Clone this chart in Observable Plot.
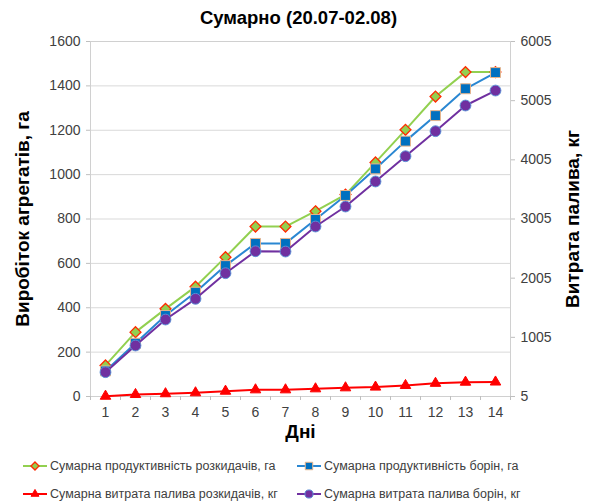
<!DOCTYPE html>
<html><head><meta charset="utf-8">
<script src="https://cdn.jsdelivr.net/npm/d3@7"></script>
<script src="https://cdn.jsdelivr.net/npm/@observablehq/plot@0.6"></script>
<style>
body{margin:0;background:#fff;font-family:"Liberation Sans",Arial,sans-serif;width:597px;}
#title{height:32px;line-height:36px;text-align:center;font-weight:bold;font-size:18.5px;color:#000;}
#legend{position:relative;height:54px;}
.item{position:absolute;display:flex;align-items:center;font-size:12.5px;color:#404040;white-space:nowrap;}
.item svg{margin-right:2px;}
</style></head><body>
<div id="title">Сумарно (20.07-02.08)</div>
<div id="chart"></div>
<div id="legend"></div>
<script>
const days = [1,2,3,4,5,6,7,8,9,10,11,12,13,14];
const spreaderArea = [140,290,395,495,628,766,766,835,910,1055,1202,1352,1462,1462];
const harrowArea   = [115,240,365,470,590,690,690,798,906,1026,1151,1266,1387,1460];
const spreaderFuel = [10,39,52,68,95,118,118,135,152,164,191,228,247,250];
const harrowFuel   = [416,867,1306,1656,2089,2460,2455,2878,3216,3639,4066,4489,4923,5176];
const leftTicks = [0,200,400,600,800,1000,1200,1400,1600];
const rightTicks = [5,1005,2005,3005,4005,5005,6005];
const seriesNames = [
  "Сумарна продуктивність розкидачів, га",
  "Сумарна продуктивність борін, га",
  "Сумарна витрата палива розкидачів, кг",
  "Сумарна витрата палива борін, кг"
];
const titleText = "Сумарно (20.07-02.08)";
const yLabelLeft = "Виробіток агрегатів, га";
const yLabelRight = "Витрата палива, кг";
const xLabel = "Дні";

// secondary (right) axis mapped onto primary scale
const rMin = rightTicks[0], rMax = rightTicks[rightTicks.length-1];
const lMin = leftTicks[0], lMax = leftTicks[leftTicks.length-1];
const toLeft = v => lMin + (v - rMin) * (lMax - lMin) / (rMax - rMin);

const styles = [
  {line:"#92d050", symbol:"diamond2", fill:"#92d050", stroke:"#ff2a00", r:4.9, sw:1.3},
  {line:"#2a87d2", symbol:"square", fill:"#0070c0", stroke:"#e8b48a", r:5.6, sw:1},
  {line:"#ff0000", symbol:"triangle", fill:"#ff0000", stroke:"#ff0000", r:3.9, sw:1},
  {line:"#7030a0", symbol:"circle", fill:"#7030a0", stroke:"#5b8fd6", r:5.4, sw:1}
];

const rows = (vals, conv) => days.map((d,i) => ({day:d, v: conv ? toLeft(vals[i]) : vals[i]}));
const series = [
  rows(spreaderArea, false),
  rows(harrowArea, false),
  rows(spreaderFuel, true),
  rows(harrowFuel, true)
];

const bounds = days.map(d => d - 0.5).concat([days[days.length-1] + 0.5]);

const marks = [
  Plot.gridY(leftTicks, {stroke:"#d9d9d9", strokeOpacity:1}),
  Plot.frame({stroke:"#d0d0d0"}),
  Plot.axisY({anchor:"left", ticks:leftTicks, tickFormat:d => String(d), tickSize:4, tickPadding:6, stroke:"#bfbfbf", fill:"#404040", fontSize:14, label:null}),
  Plot.axisY({anchor:"right", ticks:rightTicks.map(toLeft), tickFormat: v => String(Math.round(rMin + (v - lMin) * (rMax - rMin) / (lMax - lMin))), tickSize:4, tickPadding:6, stroke:"#bfbfbf", fill:"#404040", fontSize:14, label:null}),
  Plot.axisX({ticks:bounds, tickSize:4, tickFormat:() => "", stroke:"#bfbfbf", label:null}),
  Plot.axisX({ticks:days, tickSize:0, tickPadding:11, fill:"#404040", fontSize:14, label:null})
];
series.forEach((data, i) => {
  const s = styles[i];
  marks.push(Plot.line(data, {x:"day", y:"v", stroke:s.line, strokeWidth:2}));
  marks.push(Plot.dot(data, {x:"day", y:"v", symbol:() => s.symbol, r:s.r, fill:s.fill, stroke:s.stroke, strokeWidth:s.sw}));
});
marks.push(Plot.text([xLabel], {text:d=>d, frameAnchor:"bottom", dy:41, fontSize:19, fontWeight:"bold", fill:"#000"}));
marks.push(Plot.text([yLabelLeft], {text:d=>d, frameAnchor:"left", textAnchor:"middle", dx:-68, rotate:-90, fontSize:19, fontWeight:"bold", fill:"#000"}));
marks.push(Plot.text([yLabelRight], {text:d=>d, frameAnchor:"right", textAnchor:"middle", dx:62, rotate:-90, fontSize:19, fontWeight:"bold", fill:"#000"}));

const chart = Plot.plot({
  width:597, height:418,
  marginTop:9, marginBottom:54, marginLeft:90, marginRight:87,
  style:{fontFamily:"Liberation Sans, Arial, sans-serif", background:"#fff", overflow:"visible"},
  x:{type:"linear", domain:[bounds[0], bounds[bounds.length-1]]},
  y:{domain:[lMin, lMax]},
  symbol:{type:"identity"},
  marks
});
document.getElementById("chart").appendChild(chart);
document.getElementById("title").textContent = titleText;

// legend
const legend = d3.select("#legend");
const pos = [[22,16],[296,16],[22,44],[296,44]];
seriesNames.forEach((name, i) => {
  const s = styles[i];
  const item = legend.append("div").attr("class","item")
    .style("left", pos[i][0]+"px").style("top", (pos[i][1]-8)+"px").style("height","16px");
  const svg = item.append("svg").attr("width",26).attr("height",16);
  svg.append("line").attr("x1",1).attr("x2",25).attr("y1",8).attr("y2",8).attr("stroke",s.line).attr("stroke-width",2);
  const symMap = {diamond2:d3.symbolDiamond2, square:d3.symbolSquare, triangle:d3.symbolTriangle, circle:d3.symbolCircle};
  const rr = s.r * 0.75;
  svg.append("path").attr("transform","translate(13,8)")
    .attr("d", d3.symbol(symMap[s.symbol], Math.PI*rr*rr)())
    .attr("fill", s.fill).attr("stroke", s.stroke).attr("stroke-width", s.sw);
  item.append("span").text(name);
});
</script>
</body></html>
